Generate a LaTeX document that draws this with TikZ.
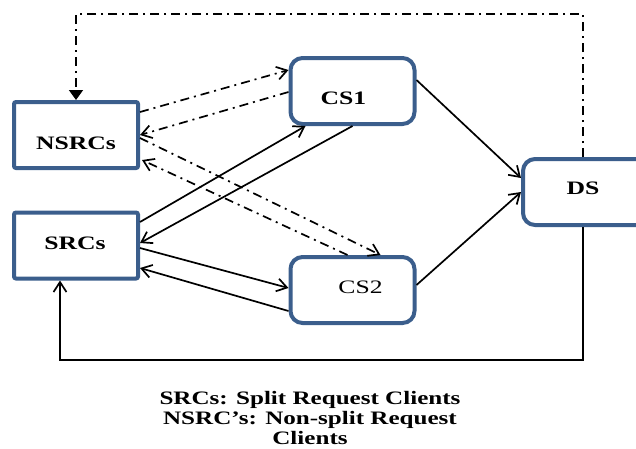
\documentclass[tikz,border=0pt]{standalone}
\usepackage{fontspec}
\setmainfont{Liberation Serif}
\usetikzlibrary{arrows.meta}
\definecolor{boxblue}{RGB}{59,94,140}
% horizontally widened text
\newcommand{\wide}[1]{\scalebox{1.35}[1]{#1}}
\begin{document}
\begin{tikzpicture}[x=1pt,y=-1pt,
  box/.style={draw=boxblue, line width=4pt, fill=white, inner sep=0pt,
              minimum width=124pt, minimum height=66pt},
  sqbox/.style={box, rounded corners=2pt},
  rbox/.style={box, rounded corners=12pt},
  lbl/.style={inner sep=0pt, font=\fontsize{19}{22}\selectfont},
  blbl/.style={lbl, font=\bfseries\fontsize{19}{22}\selectfont},
  link/.style={line width=1.7pt, -{Straight Barb[length=10pt,width=13pt]}},
  dashdot/.style={line width=1.7pt, dash pattern=on 9pt off 5pt on 2pt off 5pt},
  legend/.style={inner sep=0pt, font=\bfseries\fontsize{19}{20}\selectfont},
]
\useasboundingbox (0,0) rectangle (636,448);

% boxes
\node[sqbox, label={[blbl,yshift=-8pt]center:\wide{NSRCs}}] (nsrc) at (76,135) {};
\node[sqbox, label={[blbl,xshift=-1pt,yshift=2pt]center:\wide{SRCs}}] (src) at (76,245.5) {};
\node[rbox, label={[blbl,xshift=-9pt,yshift=-7pt]center:\wide{CS1}}] (cs1) at (352.5,91) {};
\node[rbox, label={[lbl,xshift=8pt,yshift=3pt]center:\wide{CS2}}] (cs2) at (352.5,290) {};
\node[rbox, minimum width=126pt, label={[blbl,xshift=-3pt,yshift=4pt]center:\wide{DS}}] (ds) at (586,192) {};

% routing corners of the outer feedback lines
\coordinate (topR) at (583,14);
\coordinate (topL) at (76,14);
\coordinate (botR) at (583,360);
\coordinate (botL) at (60,360);

% non-split clients <-> cache servers
\draw[link, dashdot] ([yshift=23pt]nsrc.east) -- ([yshift=21pt]cs1.west);
\draw[link, dashdot] ([yshift=-1pt]cs1.west) -- (nsrc.east);
\draw[link, dashdot] ([yshift=-3pt]nsrc.east) -- ([xshift=28pt]cs2.north);
\draw[link, dashdot] ([xshift=-5pt]cs2.north) -- ([xshift=2pt,yshift=-25pt]nsrc.east);

% split clients <-> cache servers
\draw[link] ([yshift=23.5pt]src.east) -- ([xshift=-47pt]cs1.south);
\draw[link] (cs1.south) -- ([yshift=2.5pt]src.east);
\draw[link] ([yshift=-2.5pt]src.east) -- ([yshift=2pt]cs2.west);
\draw[link] ([yshift=-21pt]cs2.west) -- ([yshift=-22.5pt]src.east);

% cache servers -> data server
\draw[link] ([yshift=11pt]cs1.east) -- ([yshift=14pt]ds.west);
\draw[link] ([yshift=5pt]cs2.east) -- (ds.west);

% data server feedback lines
\draw[dashdot, -{Triangle[length=10pt,width=14pt]}]
  (ds.north -| topR) -- (topR) -- (topL) -- (nsrc.north);
\draw[link] (ds.south -| botR) -- (botR) -- (botL) -- (src.south -| botL);

% legend
\node[legend] (key) at (310,420) {\scalebox{1.32}[1]{\begin{tabular}{@{}c@{}}SRCs: Split Request Clients\\NSRC's: Non-split Request\\Clients\end{tabular}}};
\end{tikzpicture}
\end{document}
